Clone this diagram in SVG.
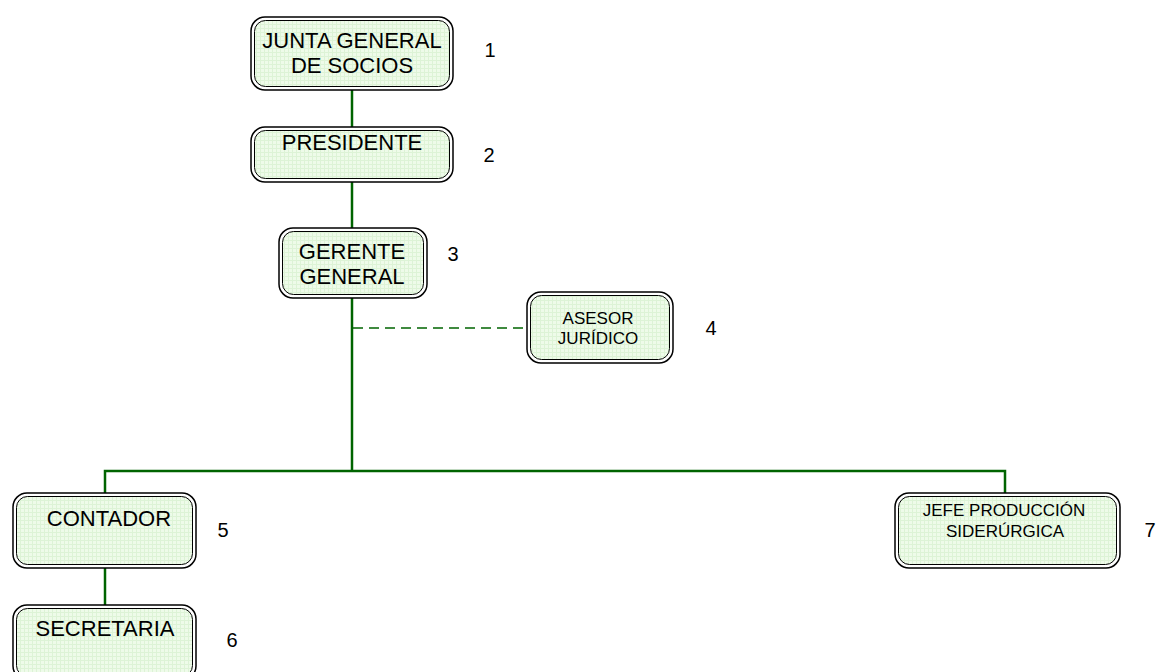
<svg xmlns="http://www.w3.org/2000/svg" width="1159" height="672" viewBox="0 0 1159 672">
<style>
.outer{fill:#ffffff;stroke:#000;stroke-width:1.5}
.inner{fill:url(#grid);stroke:#000;stroke-width:1}
.t{font-family:"Liberation Sans",Arial,sans-serif;fill:#000;text-anchor:middle}
.big{font-size:22px}
.small{font-size:17px}
.num{font-family:"Liberation Sans",Arial,sans-serif;font-size:20px;fill:#000;text-anchor:middle}
.c{stroke:#006400;stroke-width:2.5;fill:none}
.d{stroke:#006400;stroke-width:1.5;fill:none;stroke-dasharray:10,6}
</style>
<defs>
<pattern id="grid" width="4" height="4" patternUnits="userSpaceOnUse">
<rect width="4" height="4" fill="#eefbe9"/>
<path d="M0 0.5H4M0.5 0V4" stroke="#ddf3d6" stroke-width="1"/>
</pattern>
</defs>
<g id="connectors">
<line class="c" x1="352" y1="90" x2="352" y2="127"/>
<line class="c" x1="352" y1="182" x2="352" y2="228"/>
<line class="c" x1="352" y1="298" x2="352" y2="471"/>
<line class="d" x1="353" y1="328" x2="527" y2="328"/>
<polyline class="c" points="105,493 105,471 1005,471 1005,493"/>
<line class="c" x1="105" y1="568" x2="105" y2="605"/>
</g>
<g id="n1">
<rect class="outer" x="251" y="17" width="202" height="73" rx="14"/>
<rect class="inner" x="254.5" y="20.5" width="195" height="66" rx="11"/>
<text class="t big" x="352" y="48">JUNTA GENERAL</text>
<text class="t big" x="352" y="73">DE SOCIOS</text>
<text class="num" x="490" y="57">1</text>
</g>
<g id="n2">
<rect class="outer" x="251" y="127" width="202" height="55" rx="14"/>
<rect class="inner" x="254.5" y="130.5" width="195" height="48" rx="11"/>
<text class="t big" x="352" y="150">PRESIDENTE</text>
<text class="num" x="489" y="162">2</text>
</g>
<g id="n3">
<rect class="outer" x="279" y="228" width="148" height="70" rx="14"/>
<rect class="inner" x="282.5" y="231.5" width="141" height="63" rx="11"/>
<text class="t big" x="352" y="259">GERENTE</text>
<text class="t big" x="352" y="284">GENERAL</text>
<text class="num" x="453" y="261">3</text>
</g>
<g id="n4">
<rect class="outer" x="527" y="292" width="146" height="71" rx="14"/>
<rect class="inner" x="530.5" y="295.5" width="139" height="64" rx="11"/>
<text class="t small" x="598" y="324">ASESOR</text>
<text class="t small" x="598" y="344">JURÍDICO</text>
<text class="num" x="711" y="335">4</text>
</g>
<g id="n5">
<rect class="outer" x="13" y="493" width="183" height="75" rx="14"/>
<rect class="inner" x="16.5" y="496.5" width="176" height="68" rx="11"/>
<text class="t big" x="109" y="526">CONTADOR</text>
<text class="num" x="223" y="537">5</text>
</g>
<g id="n6">
<rect class="outer" x="13" y="605" width="183" height="75" rx="14"/>
<rect class="inner" x="16.5" y="608.5" width="176" height="68" rx="11"/>
<text class="t big" x="105" y="636">SECRETARIA</text>
<text class="num" x="232" y="647">6</text>
</g>
<g id="n7">
<rect class="outer" x="895" y="493" width="225" height="75" rx="14"/>
<rect class="inner" x="898.5" y="496.5" width="218" height="68" rx="11"/>
<text class="t small" x="1004" y="516">JEFE PRODUCCIÓN</text>
<text class="t small" x="1005" y="537">SIDERÚRGICA</text>
<text class="num" x="1150" y="537">7</text>
</g>
</svg>
